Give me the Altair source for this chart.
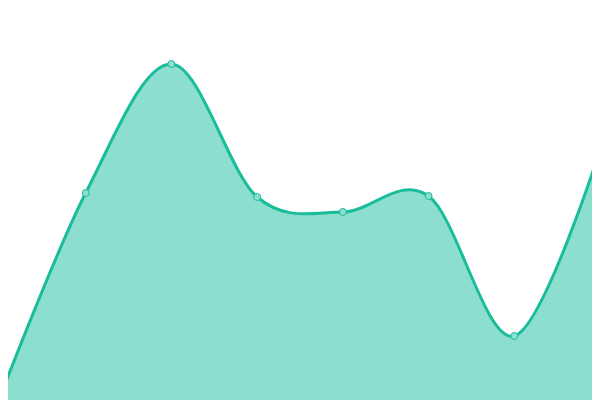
import altair as alt
import pandas as pd

idx = [0, 1, 2, 3, 4, 5, 6, 7]
values = [3, 207, 336, 203, 188, 204, 64, 250]

df = pd.DataFrame({"i": idx, "v": values})

x = alt.X("i:Q", scale=alt.Scale(domain=[0.09333, 6.90667], nice=False, zero=False), axis=None)
y = alt.Y("v:Q", scale=alt.Scale(domain=[0, 392], nice=False), axis=None)

base = alt.Chart(df).encode(x=x, y=y)

area = base.mark_area(interpolate="cardinal", color="#8cdfcf", opacity=1)
line = base.mark_line(interpolate="cardinal", color="#1abc9c", strokeWidth=3)
pts = base.mark_point(filled=True, fill="#8cdfcf", stroke="#1abc9c", strokeWidth=1, size=49, opacity=1)

chart = alt.layer(area, line, pts).properties(
    width=584, height=392, autosize=alt.AutoSizeParams(type="none"), padding=0
).configure_view(stroke=None)

chart.save("out.html", embed_options={"renderer": "svg", "actions": False})
